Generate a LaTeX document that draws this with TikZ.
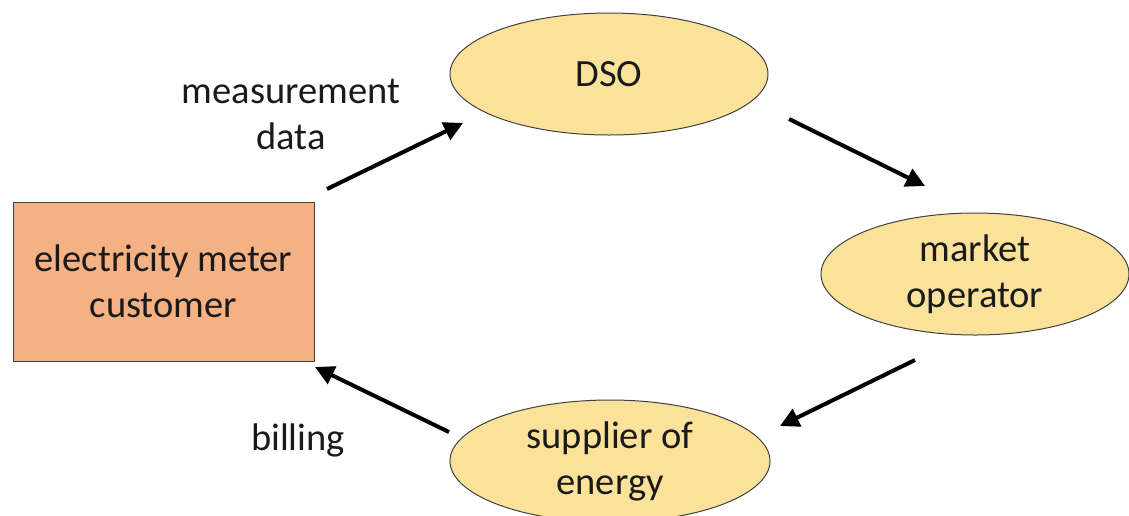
\documentclass[tikz,border=0pt]{standalone}
\usepackage{fontspec}
\setmainfont{Carlito}
\usetikzlibrary{shapes.geometric,arrows.meta}
\definecolor{boxfill}{HTML}{F4B183}
\definecolor{ellfill}{HTML}{FAE29A}
\definecolor{txt}{HTML}{1A1A1A}
\tikzset{
  x=1pt,y=-1pt,
  bigtext/.style={font=\fontsize{38.5}{46}\selectfont, text=txt, align=center},
  custbox/.style={draw=black!75, line width=1pt, fill=boxfill, minimum width=301pt, minimum height=159pt, inner sep=0pt, bigtext},
  actor/.style={ellipse, draw=black!75, line width=1pt, fill=ellfill, minimum width=318pt, minimum height=122pt, inner sep=0pt, bigtext},
  flow/.style={line width=4pt, -{Triangle[length=19pt,width=19pt]}},
  lbl/.style={bigtext}
}
\begin{document}
\begin{tikzpicture}
\useasboundingbox (0,0) rectangle (1129,515);
\node[custbox] (cust) at (163.5,281.5) {electricity meter\\customer};
\node[actor] (dso) at (609,74) {DSO};
\node[actor, minimum width=308pt] (mo) at (975,274) {market\\operator};
\node[actor, minimum width=320pt] (sup) at (610,461) {supplier of\\energy};
\node[lbl] (meas) at (291,114) {measurement\\data};
\node[lbl] (bill) at (298,440) {billing};
\coordinate (a1s) at (327,189); \coordinate (a1e) at (463,123);
\coordinate (a2s) at (789,119); \coordinate (a2e) at (925,186);
\coordinate (a3s) at (915,360); \coordinate (a3e) at (780,426);
\coordinate (a4s) at (449,432); \coordinate (a4e) at (315,367);
\draw[flow] (a1s) -- (a1e);
\draw[flow] (a2s) -- (a2e);
\draw[flow] (a3s) -- (a3e);
\draw[flow] (a4s) -- (a4e);
\end{tikzpicture}
\end{document}
